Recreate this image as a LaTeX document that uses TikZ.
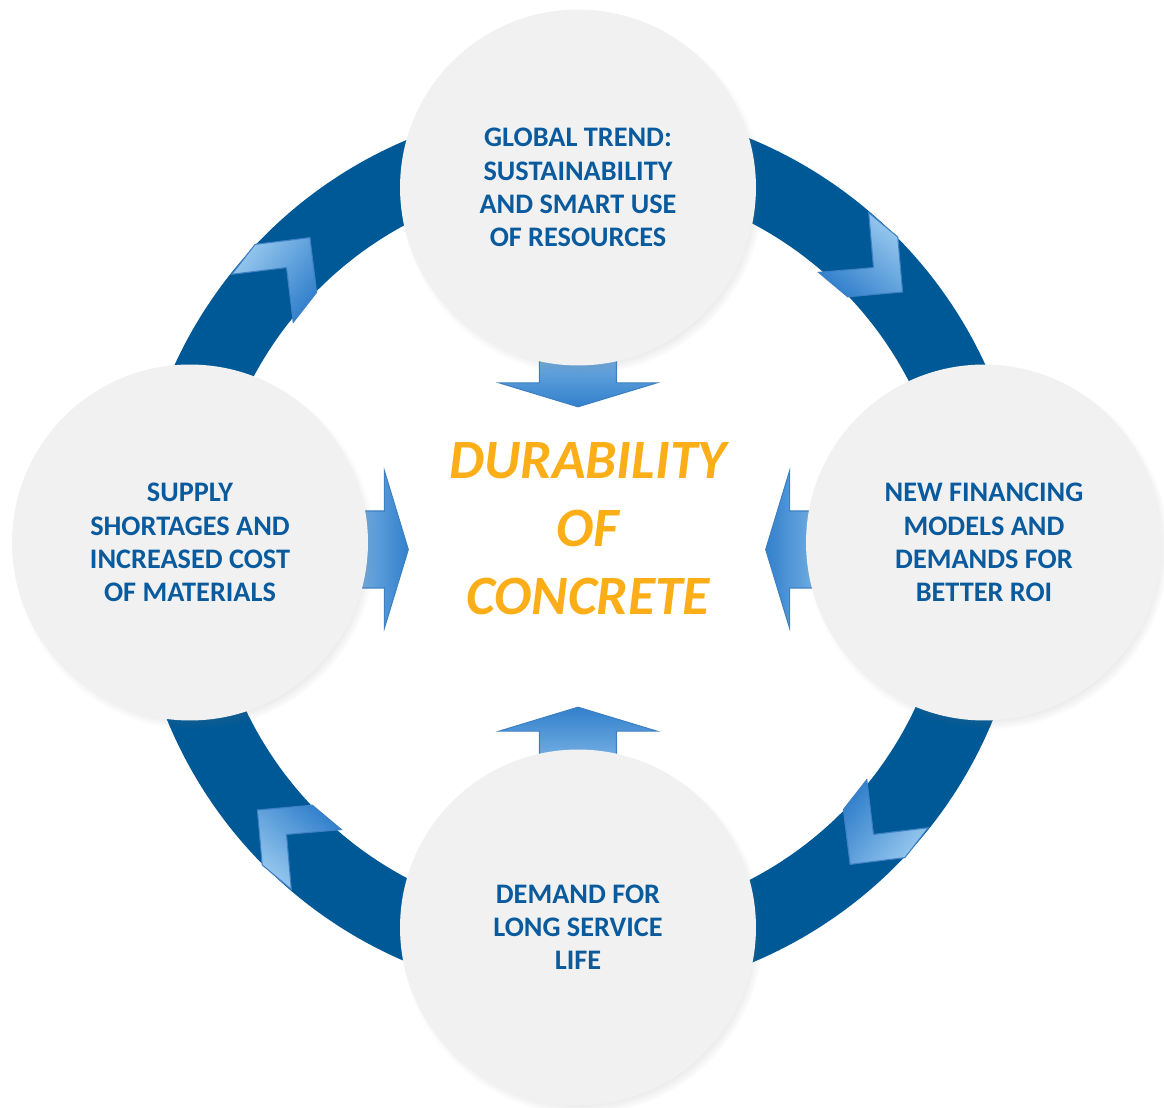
\documentclass[tikz,border=0pt]{standalone}
\usepackage{fontspec}
\setmainfont{Carlito}
\usepackage{tikz}
\usetikzlibrary{calc}
\usetikzlibrary{shadows}
\definecolor{ringblue}{RGB}{0,89,151}
\definecolor{textblue}{RGB}{10,91,158}
\definecolor{titleorange}{RGB}{251,174,23}
\definecolor{discgray}{RGB}{241,241,241}
\definecolor{chevlight}{RGB}{152,201,239}
\definecolor{chevdark}{RGB}{50,128,204}
\definecolor{chevedge}{RGB}{62,128,195}
\pgfdeclarelayer{background}
\pgfsetlayers{background,main}

\begin{document}
\begin{tikzpicture}[
            x=0.02cm, y=0.02cm,
            factor/.style={circle, fill=discgray, minimum size=7.12cm, inner sep=0pt,
                align=center, text=textblue, font=\bfseries\fontsize{16.1}{18.9}\selectfont,
                circular drop shadow={shadow xshift=2pt, shadow yshift=-3pt, shadow scale=1.02, opacity=0.35, fill=black!55}},
            goal/.style={align=center, text=titleorange, font=\bfseries\itshape\fontsize{31.6}{38.7}\selectfont},
            ring/.style={fill=ringblue, even odd rule},
            chevron/.style={draw=chevedge, line width=0.6pt, top color=chevlight, bottom color=chevdark},
            blockarrow/.style={draw=chevedge, line width=0.6pt, top color=chevlight, bottom color=chevdark},
        ]
            \useasboundingbox (0,0) rectangle (1164,1107);
            \coordinate (hub) at (580,556);

            % --- Four driving factors ---
            \node[factor] (trend) at (578,919.5) {GLOBAL TREND:\\SUSTAINABILITY\\AND SMART USE\\OF RESOURCES};
            \node[factor] (finance) at (984,564.5) {NEW FINANCING\\MODELS AND\\DEMANDS FOR\\BETTER ROI};
            \node[factor] (service) at (578,179.5) {DEMAND FOR\\LONG SERVICE\\LIFE};
            \node[factor] (supply) at (190,564.5) {SUPPLY\\SHORTAGES AND\\INCREASED COST\\OF MATERIALS};

            % --- Central topic ---
            \node[goal] (durability) at (588,578) {DURABILITY\\OF\\CONCRETE};

            \begin{pgfonlayer}{background}
                % --- Ring behind the circles ---
                \fill[ring] (hub) circle (446) (hub) circle (370);

                % --- Chevrons on the ring (clockwise) ---
                \foreach \ang in {136, 44, -44, -136} {
                    \pgfmathsetmacro{\rot}{\ang-84}
                    \begin{scope}[shift={($(hub)+(\ang:408)$)}, rotate=\rot]
                        \path[chevron, shading angle=\rot] (38,0) -- (-1,39) -- (-39,39) -- (0,0)
                            -- (-39,-39) -- (-1,-39) -- cycle;
                    \end{scope}
                }

                % --- Block arrows towards the centre ---
                \foreach \from/\dx/\dy/\dir in {trend.south/0/-41/-90, service.north/0/42/90,
                                                supply.east/40/-7/0, finance.west/-40/-7/180} {
                    \pgfmathsetmacro{\shang}{\dir+90}
                    \begin{scope}[shift={($(\from)+(\dx,\dy)$)}, rotate=\dir]
                        \path[blockarrow, shading angle=\shang] (0,0) -- (-24,79) -- (-24,38.5) -- (-80,38.5)
                            -- (-80,-38.5) -- (-24,-38.5) -- (-24,-79) -- cycle;
                    \end{scope}
                }
            \end{pgfonlayer}
        \end{tikzpicture}
\end{document}
